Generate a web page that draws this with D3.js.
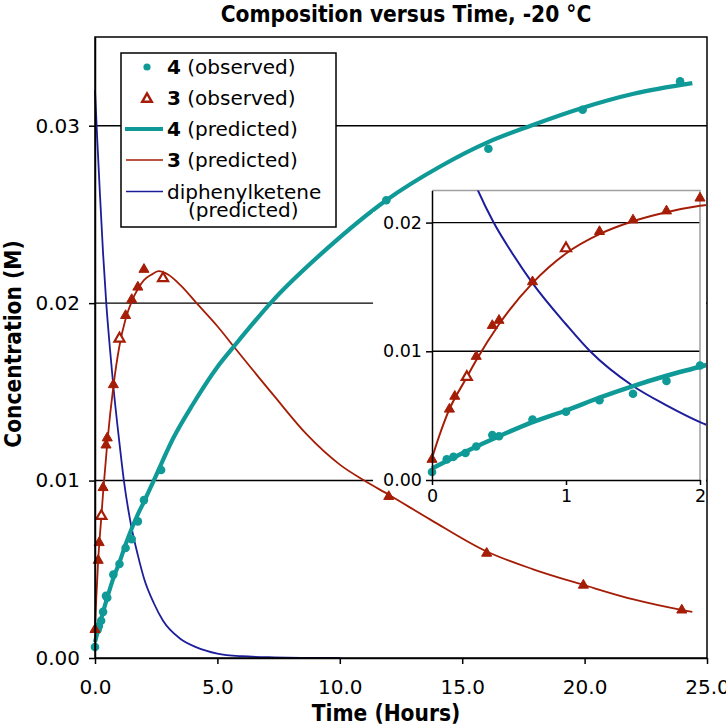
<!DOCTYPE html>
<html>
<head>
<meta charset="utf-8">
<script src="https://cdn.jsdelivr.net/npm/d3@7"></script>
<style>
  body { margin: 0; background: #fff; }
  svg { font-family: "DejaVu Sans", Verdana, sans-serif; }
  .bold { font-family: "DejaVu Sans Condensed", "DejaVu Sans", sans-serif; font-stretch: condensed; font-weight: bold; }
</style>
</head>
<body>
<svg id="chart" width="726" height="725"></svg>
<script>
// ---- data (time in hours, concentration in M) ----
const obs4Time = [0, 0.11, 0.16, 0.25, 0.33, 0.45, 0.5, 0.75, 1.0, 1.25, 1.5, 1.75, 2.0, 2.7, 11.9, 16.07, 19.92, 23.9];
const obs4Conc = [0.00062, 0.0016, 0.0018, 0.0021, 0.0026, 0.0035, 0.0034, 0.0047, 0.0053, 0.0062, 0.0067, 0.0077, 0.0089, 0.0106, 0.0258, 0.0287, 0.0309, 0.0325];

const obs3Time = [0, 0.13, 0.17, 0.26, 0.33, 0.45, 0.5, 0.75, 1.0, 1.25, 1.5, 1.75, 2.0, 2.78, 12.0, 16.0, 19.95, 23.97];
const obs3Conc = [0.0016, 0.0055, 0.0065, 0.0080, 0.0096, 0.0120, 0.0124, 0.0154, 0.0180, 0.0193, 0.0202, 0.0209, 0.0219, 0.0214, 0.0091, 0.0059, 0.0041, 0.0027];
const obs3Hollow = [0.26, 1.0, 2.78];

const pred4Time = [0, 0.25, 0.5, 0.75, 1, 1.25, 1.5, 1.75, 2, 2.4, 3.2, 4, 5, 5.7, 7.3, 9.5, 11.9, 14.1, 16.1, 17.8, 19.9, 22, 24.4];
const pred4Conc = [0.0009, 0.0022, 0.0034, 0.0045, 0.0054, 0.0064, 0.0073, 0.0081, 0.0088, 0.0100, 0.0124, 0.0143, 0.0164, 0.0176, 0.0202, 0.0231, 0.0258, 0.0277, 0.0291, 0.0300, 0.0310, 0.0318, 0.0324];

const pred3Time = [0, 0.05, 0.13, 0.25, 0.33, 0.5, 0.75, 1, 1.25, 1.5, 1.75, 2, 2.3, 2.6, 3, 3.5, 4.15, 5, 5.7, 7.3, 8.65, 10, 11, 12, 13.7, 16, 17.9, 20, 22, 24, 24.4];
const pred3Conc = [0.0017, 0.0033, 0.0055, 0.0078, 0.0093, 0.0121, 0.0153, 0.0176, 0.0191, 0.0201, 0.0208, 0.0213, 0.0216, 0.0218, 0.0216, 0.0210, 0.0200, 0.0187, 0.0175, 0.0148, 0.0126, 0.0109, 0.0100, 0.0092, 0.0078, 0.0060, 0.0050, 0.0041, 0.0033, 0.0027, 0.0026];

const ketTime = [0, 0.1, 0.2, 0.33, 0.46, 0.6, 0.75, 1, 1.18, 1.5, 1.75, 2, 2.4, 2.78, 3.47, 4.15, 5, 6, 7.3, 10];
const ketConc = [0.0320, 0.0290, 0.0262, 0.0228, 0.0200, 0.0176, 0.0153, 0.0121, 0.0100, 0.0073, 0.0058, 0.0045, 0.0031, 0.0021, 0.0011, 0.0006, 0.00025, 0.0001, 0.00004, 0];

const xTicks = [0, 5, 10, 15, 20, 25];
const yTicks = [0, 0.01, 0.02, 0.03];
const insetXTicks = [0, 1, 2];
const insetYTicks = [0, 0.01, 0.02];

const legendRows = ["4", "3", "4", "3", "diphenylketene"];

// ---- style ----
const TEAL = "#0f9a97", RED = "#a51d06", BLUE = "#1d1d9b";

const zip = (ts, cs) => ts.map((t, i) => ({t: t, c: cs[i]}));
const obs4 = zip(obs4Time, obs4Conc);
const obs3 = zip(obs3Time, obs3Conc);
const pred4 = zip(pred4Time, pred4Conc);
const pred3 = zip(pred3Time, pred3Conc);
const ket = zip(ketTime, ketConc);

const svg = d3.select("#chart");

const x = d3.scaleLinear().domain([0, 25]).range([95, 707]);
const y = d3.scaleLinear().domain([0, 0.035]).range([658, 37]);

const tri = d3.symbol(d3.symbolTriangle, 44);

const drawSeries = (g, xs, ys, lw) => {
    const line = d3.line().x(d => xs(d.t)).y(d => ys(d.c)).curve(d3.curveMonotoneX);

    g.append("path").datum(ket)
        .attr("fill", "none").attr("stroke", BLUE).attr("stroke-width", lw.thin)
        .attr("d", line);
    g.append("path").datum(pred3)
        .attr("fill", "none").attr("stroke", RED).attr("stroke-width", lw.thin)
        .attr("d", line);
    g.append("path").datum(pred4)
        .attr("fill", "none").attr("stroke", TEAL).attr("stroke-width", lw.thick)
        .attr("d", line);

    g.append("g").selectAll("circle").data(obs4).join("circle")
        .attr("cx", d => xs(d.t)).attr("cy", d => ys(d.c))
        .attr("r", lw.r).attr("fill", TEAL);

    g.append("g").selectAll("path").data(obs3).join("path")
        .attr("transform", d => "translate(" + xs(d.t) + "," + ys(d.c) + ")")
        .attr("d", tri)
        .attr("fill", d => obs3Hollow.includes(d.t) ? "#fff" : RED)
        .attr("stroke", RED)
        .attr("stroke-width", d => obs3Hollow.includes(d.t) ? 2.2 : 1);
};

// main gridlines
svg.append("g").selectAll("line").data(yTicks.filter(d => d > 0)).join("line")
    .attr("x1", x(0)).attr("x2", x(25))
    .attr("y1", d => y(d)).attr("y2", d => y(d))
    .attr("stroke", "#000").attr("stroke-width", 1.4);

drawSeries(svg.append("g"), x, y, {thin: 1.8, thick: 4.2, r: 4.3});

// frame
svg.append("rect")
    .attr("x", x(0)).attr("y", y(0.035))
    .attr("width", x(25) - x(0)).attr("height", y(0) - y(0.035))
    .attr("fill", "none").attr("stroke", "#000").attr("stroke-width", 1.5);

const styleAxis = (g, size) => {
    g.selectAll("path.domain").attr("stroke", "#000").attr("stroke-width", 1.5);
    g.selectAll(".tick line").attr("stroke", "#000").attr("stroke-width", 1.5);
    g.selectAll(".tick text").attr("fill", "#000").style("font-size", size + "px")
        .style("font-family", "'DejaVu Sans', Verdana, sans-serif");
};

svg.append("g").attr("transform", "translate(0," + y(0) + ")")
    .call(d3.axisBottom(x).tickValues(xTicks).tickFormat(d3.format(".1f")).tickSize(6).tickSizeOuter(0).tickPadding(16))
    .call(g => styleAxis(g, 20));

svg.append("g").attr("transform", "translate(" + x(0) + ",0)")
    .call(d3.axisLeft(y).tickValues(yTicks).tickFormat(d3.format(".2f")).tickSize(6).tickSizeOuter(0).tickPadding(9))
    .call(g => styleAxis(g, 20));

// titles
svg.append("text").attr("class", "bold")
    .attr("x", 406).attr("y", 22).attr("text-anchor", "middle")
    .style("font-size", "22.5px").text("Composition versus Time, -20 °C");

svg.append("text").attr("class", "bold")
    .attr("x", 386).attr("y", 721).attr("text-anchor", "middle")
    .style("font-size", "22.5px").text("Time (Hours)");

svg.append("text").attr("class", "bold")
    .attr("transform", "translate(21,344) rotate(-90)").attr("text-anchor", "middle")
    .style("font-size", "22.5px").text("Concentration (M)");

// ---- inset ----
const xi = d3.scaleLinear().domain([0, 2]).range([432, 700]);
const yi = d3.scaleLinear().domain([0, 0.0225]).range([480, 190.4]);
const inset = svg.append("g");

// white backing: plot area plus the tick-label strip on its left
inset.append("rect").attr("x", 428).attr("y", 186).attr("width", 278).attr("height", 296).attr("fill", "#fff");
inset.append("rect").attr("x", 373).attr("y", 212).attr("width", 60).attr("height", 270).attr("fill", "#fff");

inset.append("g").selectAll("line").data(insetYTicks.filter(d => d > 0)).join("line")
    .attr("x1", xi(0)).attr("x2", xi(2))
    .attr("y1", d => yi(d)).attr("y2", d => yi(d))
    .attr("stroke", "#000").attr("stroke-width", 1.4);

inset.append("path")
    .attr("d", "M" + xi(0) + "," + yi(0.0225) + "H" + xi(2) + "V" + yi(0))
    .attr("fill", "none").attr("stroke", "#a0a0a0").attr("stroke-width", 1.5);

svg.append("clipPath").attr("id", "insetClip").append("rect")
    .attr("x", xi(0) - 6).attr("y", yi(0.0225))
    .attr("width", xi(2) - xi(0) + 12).attr("height", yi(0) - yi(0.0225) + 6);

drawSeries(inset.append("g").attr("clip-path", "url(#insetClip)"), xi, yi, {thin: 2, thick: 4.5, r: 4.3});

inset.append("g").attr("transform", "translate(0," + yi(0) + ")")
    .call(d3.axisBottom(xi).tickValues(insetXTicks).tickFormat(d3.format("d")).tickSize(5).tickSizeOuter(0).tickPadding(5))
    .call(g => styleAxis(g, 17.5));

inset.append("g").attr("transform", "translate(" + xi(0) + ",0)")
    .call(d3.axisLeft(yi).tickValues(insetYTicks).tickFormat(d3.format(".2f")).tickSize(6).tickSizeOuter(0).tickPadding(4))
    .call(g => styleAxis(g, 17.5));

// ---- legend ----
const legend = svg.append("g");
legend.append("rect").attr("x", 121).attr("y", 53).attr("width", 215).attr("height", 174)
    .attr("fill", "#fff").attr("stroke", "#000").attr("stroke-width", 1.5);

const rowY = [67, 98, 129, 160, 191.5];
const suffix = ["(observed)", "(observed)", "(predicted)", "(predicted)", ""];

legend.append("circle").attr("cx", 147).attr("cy", rowY[0]).attr("r", 3.6).attr("fill", TEAL);
legend.append("path").attr("transform", "translate(147," + (rowY[1] + 1) + ")")
    .attr("d", d3.symbol(d3.symbolTriangle, 40)).attr("fill", "#fff").attr("stroke", RED).attr("stroke-width", 2.4);
legend.append("line").attr("x1", 125).attr("x2", 163).attr("y1", rowY[2]).attr("y2", rowY[2])
    .attr("stroke", TEAL).attr("stroke-width", 4);
legend.append("line").attr("x1", 126).attr("x2", 163).attr("y1", rowY[3]).attr("y2", rowY[3])
    .attr("stroke", RED).attr("stroke-width", 1.5);
legend.append("line").attr("x1", 126).attr("x2", 163).attr("y1", rowY[4]).attr("y2", rowY[4])
    .attr("stroke", BLUE).attr("stroke-width", 1.5);

legendRows.forEach((label, i) => {
    const t = legend.append("text").attr("x", 167).attr("y", rowY[i]).attr("dy", "0.36em")
        .style("font-size", "20px");
    if (i < 4) {
        t.append("tspan").style("font-weight", "bold").text(label);
        t.append("tspan").text(" " + suffix[i]);
    } else {
        t.text(label);
    }
});
legend.append("text").attr("x", 188).attr("y", 210).attr("dy", "0.36em")
    .style("font-size", "20px").text("(predicted)");
</script>
</body>
</html>
